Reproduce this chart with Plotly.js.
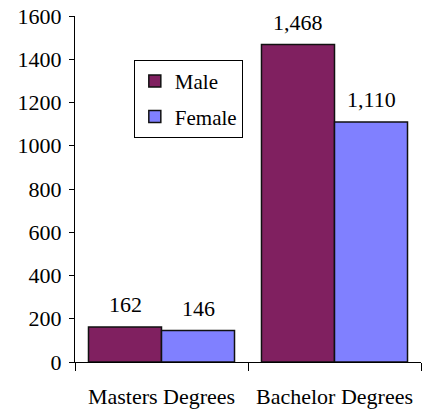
<!DOCTYPE html>
<html><head><meta charset="utf-8">
<script src="https://cdn.plot.ly/plotly-3.0.1.min.js"></script>
<style>html,body{margin:0;padding:0;background:#fff}#chart{width:427px;height:411px}</style>
</head><body><div id="chart"></div>
<script>
const categories = ["Masters Degrees", "Bachelor Degrees"];
const seriesNames = ["Male", "Female"];
const maleValues = [162, 1468];
const femaleValues = [146, 1110];
const yTicks = [0, 200, 400, 600, 800, 1000, 1200, 1400, 1600];

const colors = ["#802060", "#8080FF"];
const fam = "'Liberation Serif', 'Times New Roman', 'DejaVu Serif', serif";
const font = {family: fam, size: 22, color: "#000"};
const legendFont = {family: fam, size: 21, color: "#000"};

const seriesValues = [maleValues, femaleValues];
const traces = seriesValues.map((vals, i) => ({
  type: "bar", name: seriesNames[i], x: categories, y: vals,
  marker: {color: colors[i], line: {color: "#111", width: 1.5}},
  legendgroup: "g" + i, hoverinfo: "none"
}));

const fmt = v => v.toLocaleString("en-US");
const annotations = [];
seriesValues.forEach((vals, i) => {
  vals.forEach((v, j) => {
    annotations.push({
      x: categories[j], y: v, xref: "x", yref: "y", text: fmt(v),
      showarrow: false, xshift: (i === 0 ? -36.5 : 36.5), yshift: 22,
      font: font
    });
  });
});

const layout = {
  width: 427, height: 411,
  margin: {l: 75, r: 6, t: 16, b: 49},
  paper_bgcolor: "#fff", plot_bgcolor: "#fff",
  font: font,
  barmode: "group", bargap: 0.156, bargroupgap: 0,
  showlegend: true,
  legend: {x: 0.17, y: 0.873, xanchor: "left", yanchor: "top",
    bordercolor: "#000", borderwidth: 1, bgcolor: "#fff",
    traceorder: "grouped", tracegroupgap: 5, font: legendFont},
  xaxis: {type: "category", showline: true, linecolor: "#000", linewidth: 1,
    ticks: "outside", ticklen: 8, tickcolor: "#000", tickson: "boundaries",
    showgrid: false, zeroline: false, tickfont: font, ticklabelstandoff: 15,
    fixedrange: true},
  yaxis: {range: [0, 1600], tickvals: yTicks, ticktext: yTicks.map(String),
    showline: true, linecolor: "#000", linewidth: 1, ticks: "outside",
    ticklen: 5, tickcolor: "#000", showgrid: false, zeroline: false,
    tickfont: font, ticklabelstandoff: 3, fixedrange: true},
  annotations: annotations
};

Plotly.newPlot("chart", traces, layout, {displayModeBar: false, staticPlot: true});
</script></body></html>
